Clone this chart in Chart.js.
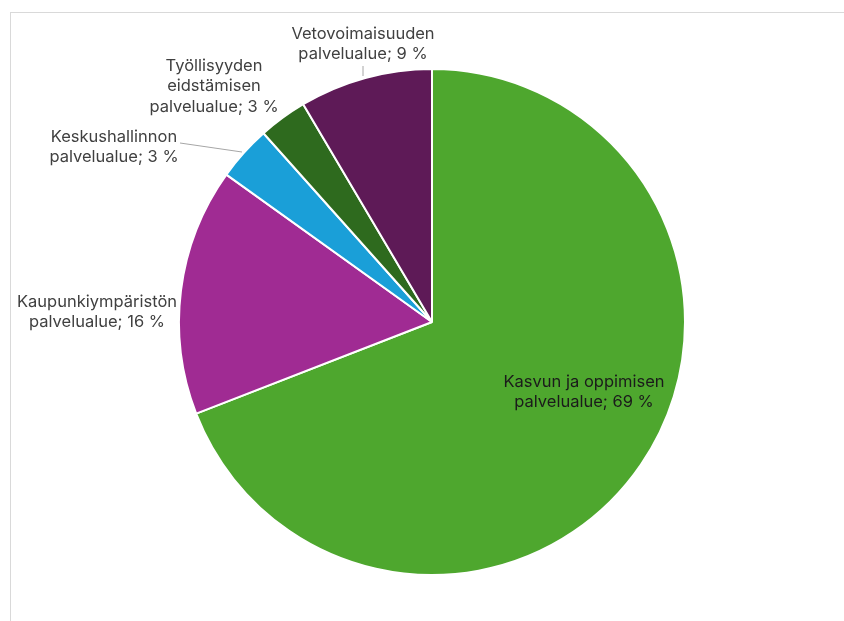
<!DOCTYPE html>
<html>
<head>
<meta charset="utf-8">
<script src="https://cdn.jsdelivr.net/npm/chart.js@4"></script>
<style>
html,body{margin:0;padding:0;background:#fff;}
#wrap{position:relative;width:844px;height:621px;}
#frame{position:absolute;left:10px;top:12px;right:0;bottom:0;border-top:1px solid #d9d9d9;border-left:1px solid #d9d9d9;}
canvas{position:absolute;left:0;top:0;}
</style>
</head>
<body>
<div id="wrap"><div id="frame"></div><canvas id="c" width="844" height="621"></canvas></div>
<script>
const categories = [
  ["Kasvun ja oppimisen", "palvelualue; 69 %"],
  ["Kaupunkiympäristön", "palvelualue; 16 %"],
  ["Keskushallinnon", "palvelualue; 3 %"],
  ["Työllisyyden", "eidstämisen", "palvelualue; 3 %"],
  ["Vetovoimaisuuden", "palvelualue; 9 %"]
];
const values = [69.1, 15.8, 3.5, 3.1, 8.5];
const colors = ["#4ea72e", "#a02b93", "#1a9fd8", "#2e6a1e", "#5e1a57"];

// label placement (style only)
const labelStyle = [
  {x:584, y:382, color:"#1b1b1b"},
  {x:97, y:302, color:"#404040"},
  {x:114, y:137, color:"#404040", leader:[[180,143],[242,152]]},
  {x:214, y:66, color:"#404040"},
  {x:363, y:34, color:"#404040", leader:[[363,66],[363,76]]}
];

const labelPlugin = {
  id:'labels',
  afterDatasetsDraw(chart){
    const ctx = chart.ctx;
    ctx.save();
    ctx.font = '16.5px Inter, "Noto Sans", sans-serif';
    ctx.textAlign = 'center';
    ctx.textBaseline = 'middle';
    categories.forEach((lines,i)=>{
      const s = labelStyle[i];
      if (s.leader){
        ctx.strokeStyle = '#a6a6a6';
        ctx.lineWidth = 1;
        ctx.beginPath();
        ctx.moveTo(s.leader[0][0], s.leader[0][1]);
        for (let k=1;k<s.leader.length;k++) ctx.lineTo(s.leader[k][0], s.leader[k][1]);
        ctx.stroke();
      }
      ctx.fillStyle = s.color;
      lines.forEach((t,j)=>ctx.fillText(t, s.x, s.y + j*20.5));
    });
    ctx.restore();
  }
};

new Chart(document.getElementById('c'), {
  type:'pie',
  data:{
    labels: categories.map(l=>l.join(' ')),
    datasets:[{data:values, backgroundColor:colors, borderColor:'#ffffff', borderWidth:2}]
  },
  options:{
    responsive:false,
    animation:false,
    layout:{padding:{left:178, right:158, top:68, bottom:45}},
    plugins:{legend:{display:false}, tooltip:{enabled:false}}
  },
  plugins:[labelPlugin]
});
</script>
</body>
</html>
